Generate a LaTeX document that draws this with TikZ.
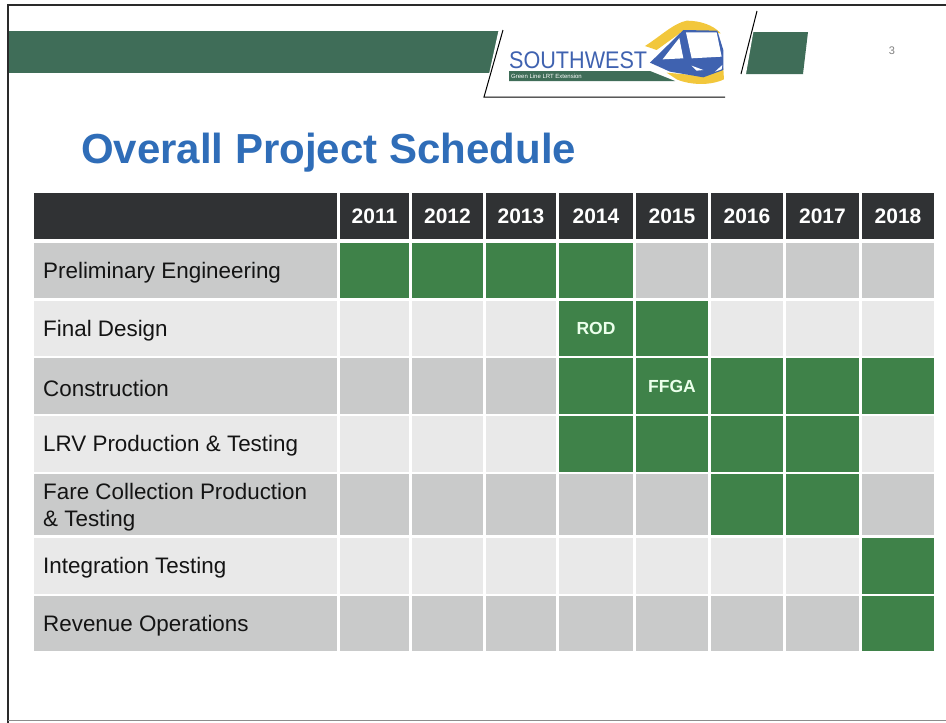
\documentclass[tikz,border=0pt]{standalone}
\usepackage{fontspec}
\setmainfont{Liberation Sans}
\definecolor{G}{HTML}{3F8249}
\definecolor{D}{HTML}{C9CACA}
\definecolor{L}{HTML}{E9E9E9}
\definecolor{headdark}{HTML}{303234}
\definecolor{bandgreen}{HTML}{3F6D58}
\definecolor{titleblue}{HTML}{2F6DB8}
\definecolor{logoblue}{HTML}{3F62B0}
\definecolor{logoyellow}{HTML}{F2C73C}
\definecolor{rulegrey}{HTML}{2A2A2A}
\tikzset{
  x=1pt,y=-1pt,
  gridbox/.style={inner sep=0pt,outer sep=0pt},
  rowlabel/.style={font=\fontsize{22.4}{27}\selectfont,text=black!92,align=left,anchor=west,inner sep=0pt},
  yearlabel/.style={inner sep=0pt,font=\bfseries\fontsize{21}{24}\selectfont,text=white},
  milestone/.style={inner sep=0pt,font=\bfseries\fontsize{17.5}{20}\selectfont,text=white!92!green},
}
\newcommand{\gridcell}[6]{\node[gridbox,fill=#6,minimum width=#3pt-#2pt,minimum height=#5pt-#4pt] (#1) at ({(#2+#3)/2},{(#4+#5)/2}) {};}
% \tablerow{row name}{y1}{y2}{label cell colour}{eight cell colours}
\newcommand{\tablerow}[5]{%
  \gridcell{#1c0}{34}{337}{#2}{#3}{#4}
  \foreach \cellcol [count=\ci] in {#5} {%
    \pgfmathtruncatemacro\xa{{340,412,486,559,636,711,786,862}[\ci-1]}%
    \pgfmathtruncatemacro\xb{{409,483,556,633,708,783,859,934}[\ci-1]}%
    \gridcell{#1c\ci}{\xa}{\xb}{#2}{#3}{\cellcol}
  }%
}
\begin{document}
\begin{tikzpicture}
\useasboundingbox (0,0) rectangle (946,723);
\fill[white] (0,0) rectangle (946,723);
% page frame
\draw[rulegrey,line width=1.6pt] (946,5) -- (8,5) -- (8,723);
\draw[black!45,line width=1pt] (8,720.5) -- (946,720.5);
% header band
\fill[bandgreen] (9,31) -- (515,31) -- (515,73) -- (9,73) -- cycle;
\fill[bandgreen] (745,32) -- (808,32) -- (803,74) -- (740,74) -- cycle;
% logo panel
\fill[white] (503,10) -- (757,11) -- (742,97) -- (484,97) -- cycle;
\draw[black,line width=1pt] (503,30) -- (484,97) -- (725,97);
\draw[black,line width=1pt] (757,11) -- (741,74);
% train logo, zoom coordinates
\begin{scope}[shift={(470,0)},x=0.3333pt,y=-0.3333pt]
  \fill[logoyellow] (525,138) .. controls (570,110) and (610,70) .. (650,62) .. controls (690,62) and (730,75) .. (752,100) -- (640,92) -- (560,150) -- cycle;
  \fill[logoyellow] (590,218) -- (700,228) -- (760,205) -- (762,238) .. controls (720,258) and (660,255) .. (620,238) -- cycle;
  \fill[logoblue] (540,188) -- (640,90) -- (742,92) -- (760,150) -- (760,210) -- (700,232) -- (600,215) -- cycle;
  \fill[white] (578,178) -- (628,114) -- (640,175) -- cycle;
  \fill[white] (648,97) -- (740,97) -- (755,170) -- (665,175) -- cycle;
  \fill[white] (665,197) -- (700,210) -- (680,212) -- cycle;
  \fill[white] (735,215) -- (757,195) -- (755,208) -- cycle;
\end{scope}
\fill[bandgreen] (509,71) -- (650,71) -- (675,81) -- (509,81) -- cycle;
\node[inner sep=0pt,anchor=west,text=logoblue,font=\fontsize{24}{28}\selectfont,xscale=0.9] (logoname) at (509,60.5) {SOUTHWEST};
\node[inner sep=0pt,anchor=west,text=white,font=\fontsize{6}{7}\selectfont] (logosub) at (511,76.5) {Green Line LRT Extension};
\node[inner sep=0pt,text=black!50,font=\fontsize{11}{13}\selectfont] (pagenum) at (892,51) {3};
% title
\node[inner sep=0pt,anchor=west,text=titleblue,font=\bfseries\fontsize{42}{48}\selectfont] (title) at (81,153) {Overall Project Schedule};
% table
\tablerow{h}{193}{239}{headdark}{headdark,headdark,headdark,headdark,headdark,headdark,headdark,headdark}
\foreach \yr [count=\ci] in {2011,...,2018} {\node[yearlabel] (y\yr) at (hc\ci) {\yr};}
\tablerow{ra}{243}{298}{D}{G,G,G,G,D,D,D,D}
\tablerow{rb}{301}{356}{L}{L,L,L,G,G,L,L,L}
\tablerow{rc}{358}{414}{D}{D,D,D,G,G,G,G,G}
\tablerow{rd}{416}{472}{L}{L,L,L,G,G,G,G,L}
\tablerow{re}{474}{535}{D}{D,D,D,D,D,G,G,D}
\tablerow{rf}{538}{594}{L}{L,L,L,L,L,L,L,G}
\tablerow{rg}{596}{651}{D}{D,D,D,D,D,D,D,G}
\node[rowlabel] (la) at (43,273) {Preliminary Engineering};
\node[rowlabel] (lb) at (43,331) {Final Design};
\node[rowlabel] (lc) at (43,388) {Construction};
\node[rowlabel] (ld) at (43,446) {LRV Production \& Testing};
\node[rowlabel] (le) at (43,507) {Fare Collection Production\\\& Testing};
\node[rowlabel] (lf) at (43,568) {Integration Testing};
\node[rowlabel] (lg) at (43,626) {Revenue Operations};
\node[milestone] (rod) at (rbc4) {ROD};
\node[milestone] (ffga) at (rcc5) {FFGA};
\end{tikzpicture}
\end{document}
